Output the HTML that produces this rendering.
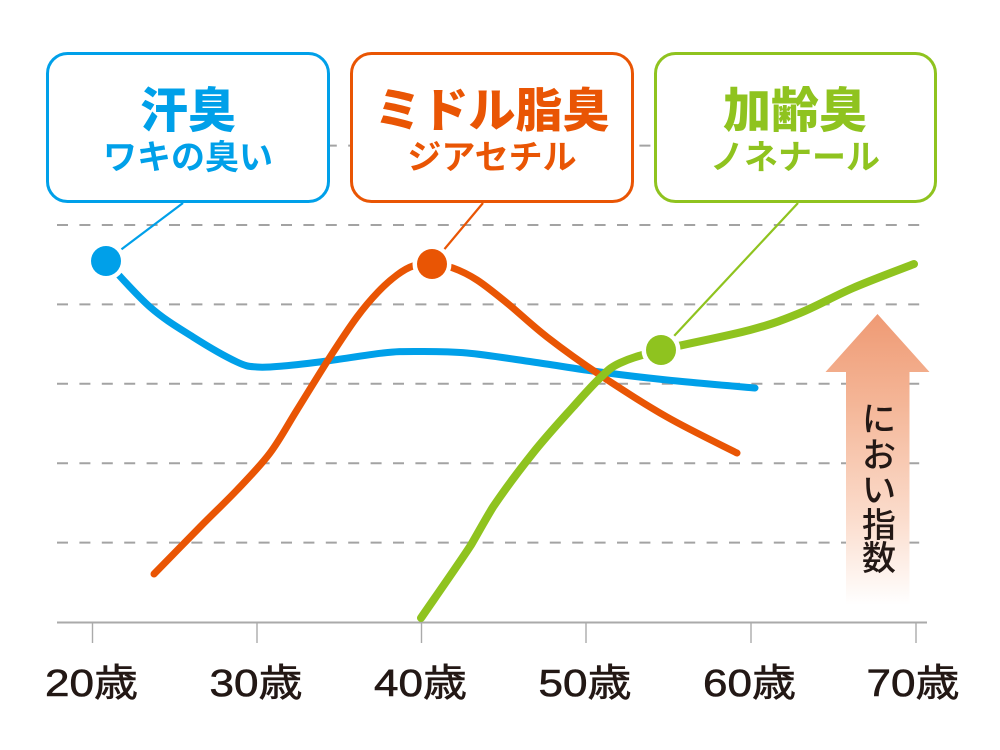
<!DOCTYPE html>
<html><head><meta charset="utf-8">
<style>
html,body{margin:0;padding:0;background:#fff;}
svg{display:block;}
.jp{font-family:"Liberation Sans","Noto Sans CJK JP",sans-serif;}
</style></head>
<body>
<svg width="1000" height="750" viewBox="0 0 1000 750" xmlns="http://www.w3.org/2000/svg">
<defs>
<linearGradient id="ag" x1="0" y1="314" x2="0" y2="605" gradientUnits="userSpaceOnUse">
<stop offset="0" stop-color="#ef9a74"/>
<stop offset="0.3" stop-color="#f4b596"/>
<stop offset="0.7" stop-color="#fbdccc"/>
<stop offset="1" stop-color="#ffffff"/>
</linearGradient>
</defs>
<rect width="1000" height="750" fill="#fff"/>

<!-- grid -->
<g stroke="#a3a3a3" stroke-width="2" stroke-dasharray="11 11.4" fill="none">
<line x1="57" y1="145.6" x2="922" y2="145.6"/>
<line x1="57" y1="225" x2="922" y2="225"/>
<line x1="57" y1="304.4" x2="922" y2="304.4"/>
<line x1="57" y1="383.8" x2="922" y2="383.8"/>
<line x1="57" y1="463.2" x2="922" y2="463.2"/>
<line x1="57" y1="542.6" x2="922" y2="542.6"/>
</g>

<!-- axis -->
<line x1="57" y1="622.5" x2="927" y2="622.5" stroke="#aaaaaa" stroke-width="2"/>
<g stroke="#aaaaaa" stroke-width="1.4">
<line x1="92.5" y1="622" x2="92.5" y2="643"/>
<line x1="257" y1="622" x2="257" y2="643"/>
<line x1="421.5" y1="622" x2="421.5" y2="643"/>
<line x1="586" y1="622" x2="586" y2="643"/>
<line x1="751" y1="622" x2="751" y2="643"/>
<line x1="916" y1="622" x2="916" y2="643"/>
</g>
<g class="jp" font-size="38" fill="#231815" stroke="#231815" stroke-width="0.6" text-anchor="middle">
<text x="91.5" y="696" textLength="93" lengthAdjust="spacingAndGlyphs">20歳</text>
<text x="256" y="696" textLength="93" lengthAdjust="spacingAndGlyphs">30歳</text>
<text x="420.5" y="696" textLength="93" lengthAdjust="spacingAndGlyphs">40歳</text>
<text x="585" y="696" textLength="93" lengthAdjust="spacingAndGlyphs">50歳</text>
<text x="749.5" y="696" textLength="93" lengthAdjust="spacingAndGlyphs">60歳</text>
<text x="913" y="696" textLength="93" lengthAdjust="spacingAndGlyphs">70歳</text>
</g>

<!-- arrow -->
<path d="M877.5,314 L929.5,372 L909.5,372 L909.5,605 L846,605 L846,372 L825.5,372 Z" fill="url(#ag)"/>
<g class="jp" font-size="34" font-weight="500" fill="#231815" text-anchor="middle">
<text x="879" y="431">に</text>
<text x="879" y="467">お</text>
<text x="879" y="502">い</text>
<text x="879" y="537">指</text>
<text x="879" y="570">数</text>
</g>

<!-- pointer lines -->
<line x1="183" y1="203" x2="106" y2="261" stroke="#00a0e9" stroke-width="2.2"/>
<line x1="483" y1="203" x2="432" y2="264" stroke="#e95504" stroke-width="2.2"/>
<line x1="798" y1="203" x2="661" y2="350" stroke="#8fc31f" stroke-width="2.2"/>

<!-- curves -->
<path fill="none" stroke="#00a0e9" stroke-width="7" stroke-linecap="round" stroke-linejoin="round"
d="M106,261 C113.3,268.7 135.5,294.3 150,307 C164.5,319.7 178.5,327.8 193,337 C207.5,346.2 226.3,357 237,362 C247.7,367 249.3,366.3 257,367 C264.7,367.7 271.3,367 283,366 C294.7,365 310.3,363.2 327,361 C343.7,358.8 368,354.6 383,353 C398,351.4 403,351.5 417,351.5 C431,351.5 447.7,351.25 467,353 C486.3,354.75 510.8,358.8 533,362 C555.2,365.2 577.7,369 600,372 C622.3,375 641.2,377.3 667,380 C692.8,382.7 740.3,386.7 755,388"/>

<path fill="none" stroke="#e95504" stroke-width="7" stroke-linecap="round" stroke-linejoin="round"
d="M154,574 C161.7,566.2 186.2,541 200,527 C213.8,513 225.3,502.3 237,490 C248.7,477.7 260,466.3 270,453 C280,439.7 287,426 297,410 C307,394 320,372.5 330,357 C340,341.5 349,327.8 357,317 C365,306.2 371.3,299 378,292 C384.7,285 391.2,279.3 397,275 C402.8,270.7 407.2,267.8 413,266 C418.8,264.2 425.3,263.7 432,264 C438.7,264.3 445.5,265.3 453,268 C460.5,270.7 468,274.2 477,280 C486,285.8 495.3,293.5 507,303 C518.7,312.5 531.5,325 547,337 C562.5,349 580,361.7 600,375 C620,388.3 644.2,404 667,417 C689.8,430 725.3,447 737,453"/>

<path fill="none" stroke="#8fc31f" stroke-width="8" stroke-linecap="round" stroke-linejoin="round"
d="M421,618 C429.3,605.8 459,563.5 471,545 C478,533 485,520 493,507 C503.3,491.7 519.7,469.7 533,453 C546.3,436.3 561.8,419.5 573,407 C584.2,394.5 592.2,385.3 600,378 C607.8,370.7 609.8,367.7 620,363 C630.2,358.3 639.3,355.5 661,350 C682.7,344.5 726.8,336.2 750,330 C773.2,323.8 782.8,320 800,313 C817.2,306 834,296.2 853,288 C872,279.8 903.8,268 914,264"/>

<!-- dots -->
<circle cx="106" cy="261" r="19.5" fill="#fff"/>
<circle cx="106" cy="261" r="15" fill="#00a0e9"/>
<circle cx="432" cy="264" r="19.5" fill="#fff"/>
<circle cx="432" cy="264" r="15" fill="#e95504"/>
<circle cx="661" cy="350" r="19.5" fill="#fff"/>
<circle cx="661" cy="350" r="15" fill="#8fc31f"/>

<!-- boxes -->
<rect x="47.5" y="53.5" width="281" height="148" rx="20" ry="20" fill="#fff" stroke="#00a0e9" stroke-width="3"/>
<rect x="351.5" y="53.5" width="281" height="148" rx="20" ry="20" fill="#fff" stroke="#e95504" stroke-width="3"/>
<rect x="655.5" y="53.5" width="280" height="148" rx="20" ry="20" fill="#fff" stroke="#8fc31f" stroke-width="3"/>

<g class="jp" text-anchor="middle">
<text x="188" y="127" font-size="48" font-weight="900" fill="#00a0e9">汗臭</text>
<text x="188" y="169" font-size="34" font-weight="700" fill="#00a0e9">ワキの臭い</text>
<text x="492" y="127" font-size="47" font-weight="900" fill="#e95504">ミドル脂臭</text>
<text x="492" y="169" font-size="34" font-weight="700" fill="#e95504">ジアセチル</text>
<text x="795" y="127" font-size="48" font-weight="900" fill="#8fc31f">加齢臭</text>
<text x="795" y="169" font-size="34" font-weight="700" fill="#8fc31f">ノネナール</text>
</g>
</svg>
</body></html>
